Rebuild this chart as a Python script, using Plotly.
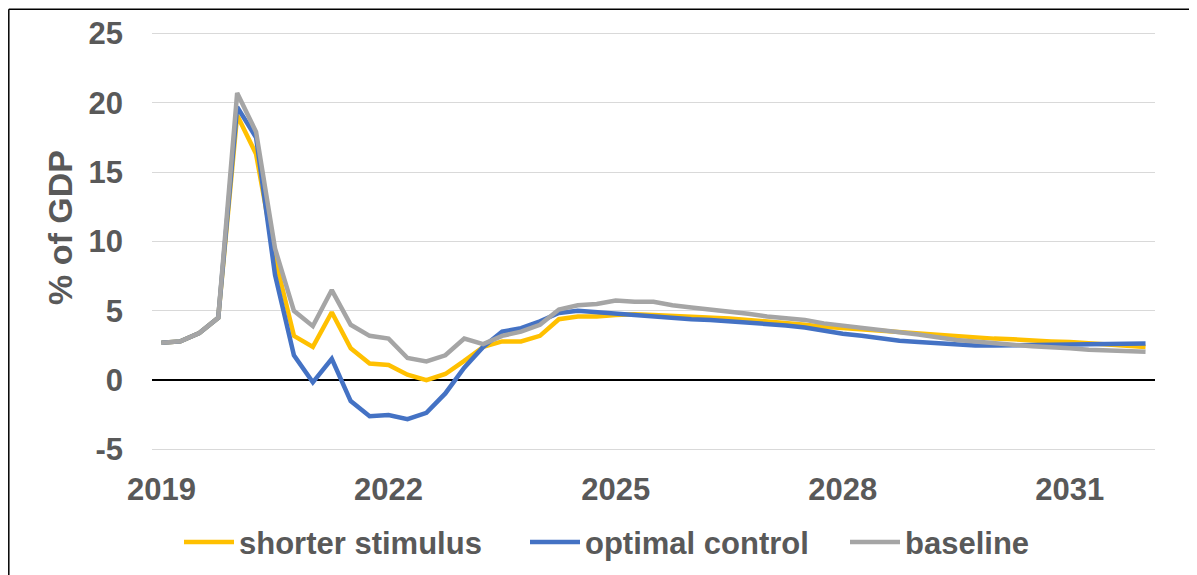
import plotly.graph_objects as go

quarters = list(range(53))
tick_positions = [0, 12, 24, 36, 48]
tick_labels = ["2019", "2022", "2025", "2028", "2031"]
y_ticks = [-5, 0, 5, 10, 15, 20, 25]
y_tick_labels = ["-5", "0", "5", "10", "15", "20", "25"]

shorter_stimulus = [2.7, 2.8, 3.4, 4.5, 19.1, 16.3, 8.8, 3.2, 2.4, 4.9,
                    2.3, 1.2, 1.1, 0.4, 0.0, 0.45, 1.4, 2.4, 2.8, 2.8,
                    3.2, 4.4, 4.6, 4.6, 4.7, 4.75, 4.7, 4.65, 4.6, 4.55,
                    4.45, 4.35, 4.25, 4.1, 4.0, 3.85, 3.75, 3.65, 3.55, 3.5,
                    3.4, 3.3, 3.2, 3.1, 3.0, 2.95, 2.85, 2.8, 2.75, 2.65,
                    2.55, 2.45, 2.4]
optimal_control = [2.7, 2.8, 3.4, 4.5, 19.7, 17.5, 7.6, 1.8, -0.15, 1.55,
                   -1.5, -2.6, -2.5, -2.8, -2.35, -0.95, 0.9, 2.4, 3.5, 3.75,
                   4.25, 4.85, 5.0, 4.9, 4.8, 4.7, 4.55, 4.5, 4.4, 4.35,
                   4.25, 4.2, 4.05, 3.95, 3.8, 3.55, 3.35, 3.2, 3.0, 2.85,
                   2.75, 2.65, 2.55, 2.5, 2.5, 2.5, 2.5, 2.52, 2.57, 2.6,
                   2.63, 2.65, 2.65]
baseline = [2.7, 2.8, 3.4, 4.5, 20.7, 17.9, 9.5, 5.0, 3.9, 6.5,
            4.0, 3.2, 3.0, 1.6, 1.35, 1.8, 3.0, 2.6, 3.2, 3.5,
            4.0, 5.1, 5.4, 5.5, 5.75, 5.65, 5.65, 5.4, 5.25, 5.1,
            5.0, 4.8, 4.6, 4.5, 4.35, 4.1, 3.95, 3.8, 3.6, 3.45,
            3.3, 3.1, 2.9, 2.8, 2.65, 2.55, 2.45, 2.4, 2.3, 2.2,
            2.15, 2.05, 2.05]

series_names = ["shorter stimulus", "optimal control", "baseline"]
series_values = [shorter_stimulus, optimal_control, baseline]
series_colors = ["#FFC000", "#4472C4", "#A5A5A5"]
legend_ids = ["legend", "legend2", "legend3"]
legend_left_px = [187, 533, 853]   # reference pixel where each legend line starts

FONT = "Liberation Sans, Arial, sans-serif"
GREY_TXT = "#595959"

# the page has an 8px body margin; work in reference-pixel coordinates
OFF = 8
W, H = 1197 - OFF, 575 - OFF
Y_LO, Y_HI = -5.1, 25.1
unit = (450 - 33) / 30.0               # px per y unit in reference
L, R = 152, 42
T = 33 - (Y_HI - 25) * unit
Bot = 450 + (-5 - Y_LO) * unit         # reference pixel of plot bottom
l_m, t_m = L - OFF, T - OFF
pw = (1197 - R) - L
ph = Bot - T
r_m = W - l_m - pw
b_m = H - t_m - ph


def px(xp):
    return (xp - L) / pw


def py(yp):
    return (Bot - yp) / ph


fig = go.Figure()
for name, vals, color, lg in zip(series_names, series_values, series_colors, legend_ids):
    fig.add_trace(go.Scatter(
        x=quarters, y=vals, mode="lines", name=name, legend=lg,
        line=dict(color=color, width=4.5),
    ))

legend_font = dict(size=31, color=GREY_TXT, family=FONT, weight="bold")
layout_legends = {}
for lg, lx in zip(legend_ids, legend_left_px):
    layout_legends[lg] = dict(
        orientation="h", x=px(lx - 8), xanchor="left",
        y=py(543), yanchor="middle", font=legend_font,
        itemwidth=50, bgcolor="rgba(0,0,0,0)", borderwidth=0,
    )

fig.update_layout(
    width=W, height=H,
    margin=dict(l=l_m, r=r_m, t=t_m, b=b_m, pad=0, autoexpand=False),
    paper_bgcolor="white", plot_bgcolor="white",
    font=dict(family=FONT, color=GREY_TXT, size=31, weight="bold"),
    showlegend=True,
    xaxis=dict(
        range=[-0.5, 52.5], tickmode="array", tickvals=tick_positions,
        ticktext=tick_labels, showgrid=False, zeroline=False, showline=False,
        ticks="", ticklabelstandoff=17, automargin=False,
        tickfont=dict(size=31, color=GREY_TXT, family=FONT, weight="bold"),
    ),
    yaxis=dict(
        range=[Y_LO, Y_HI], tickmode="array", tickvals=y_ticks, ticktext=y_tick_labels,
        showgrid=True, gridcolor="#D9D9D9", gridwidth=1,
        zeroline=True, zerolinecolor="#000000", zerolinewidth=1.5,
        showline=False, ticks="", ticklabelstandoff=28, automargin=False,
        tickfont=dict(size=31, color=GREY_TXT, family=FONT, weight="bold"),
    ),
    **layout_legends,
)

fig.add_annotation(
    text="% of GDP", textangle=-90, showarrow=False,
    xref="paper", yref="paper", x=px(60), y=py(228),
    xanchor="center", yanchor="middle",
    font=dict(size=34, color=GREY_TXT, family=FONT, weight="bold"),
)

# outer chart border (top and left edges visible)
fig.add_shape(type="line", xref="paper", yref="paper",
              x0=px(8.8), y0=py(8.8), x1=px(1210), y1=py(8.8),
              line=dict(color="black", width=1.5))
fig.add_shape(type="line", xref="paper", yref="paper",
              x0=px(8.8), y0=py(8.8), x1=px(8.8), y1=py(590),
              line=dict(color="black", width=1.5))

fig.write_html("out.html")
